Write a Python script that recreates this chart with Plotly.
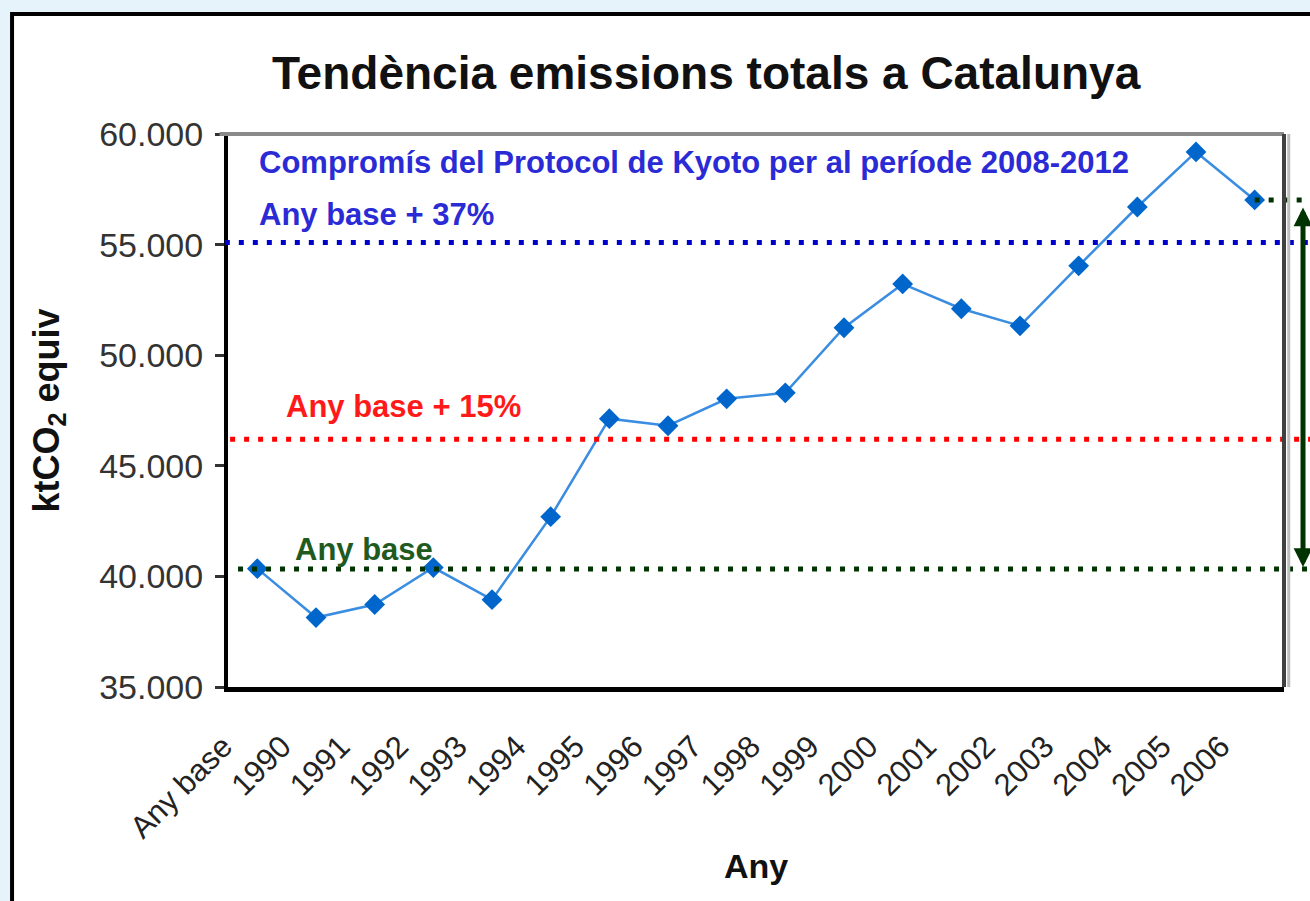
import plotly.graph_objects as go

# categories and emissions (kt CO2 equiv)
anys = ["Any base", "1990", "1991", "1992", "1993", "1994", "1995", "1996", "1997",
        "1998", "1999", "2000", "2001", "2002", "2003", "2004", "2005", "2006"]
emissions = [40350, 38140, 38730, 40400, 38950, 42700, 47130, 46810, 48030,
             48300, 51240, 53220, 52100, 51330, 54040, 56700, 59190, 57020]

# reference levels: Kyoto +37%, +15%, base year
ref_labels = ["Any base + 37%", "Any base + 15%", "Any base"]
ref_levels = [55100, 46200, 40330]
ref_colors = ["#0000cc", "#ff0000", "#003300"]
label_colors = ["#2b2bd6", "#ff1a1a", "#1f5a1f"]

y_ticks = [35000, 40000, 45000, 50000, 55000, 60000]

FONT = "Liberation Sans, Arial, sans-serif"

fig = go.Figure()
fig.add_trace(go.Scatter(
    x=anys, y=emissions, mode="lines+markers",
    line=dict(color="#3a8de0", width=2.5),
    marker=dict(symbol="diamond", size=16, color="#0066cc"),
    showlegend=False, cliponaxis=False))

# white card with black frame (cropped on the right/bottom like the source)
fig.add_shape(type="rect", xref="paper", yref="paper", x0=-0.2045, x1=1.06, y0=-0.45, y1=1.217,
              fillcolor="white", line=dict(color="black", width=4), layer="below")

# dotted reference lines, running past the plot to the right edge
starts = [-0.003, 0.002, 0.0095]
for lvl, col, x0 in zip(ref_levels, ref_colors, starts):
    fig.add_shape(type="line", xref="paper", yref="y", x0=x0, x1=1.03, y0=lvl, y1=lvl,
                  line=dict(color=col, width=5, dash="5px,9px"))

# short dotted level from the last year to the arrow
last_pos = (len(anys) - 0.5) / len(anys)
fig.add_shape(type="line", xref="paper", yref="y", x0=last_pos, x1=1.03,
              y0=emissions[-1], y1=emissions[-1],
              line=dict(color="#003300", width=5, dash="5px,9px"))

# plot frame: grey top, dark right edge with a light shadow
fig.add_shape(type="line", xref="paper", yref="paper", x0=-0.008, x1=1.0, y0=1, y1=1,
              line=dict(color="#8a8a8a", width=4))
fig.add_shape(type="line", xref="paper", yref="paper", x0=1.0, x1=1.0, y0=0, y1=1,
              line=dict(color="#404040", width=4))
fig.add_shape(type="line", xref="paper", yref="paper", x0=1.0045, x1=1.0045, y0=0, y1=1,
              line=dict(color="#bdbdbd", width=3))

# double-headed arrow between base level and last year
fig.add_annotation(xref="paper", yref="y", x=1.018, y=ref_levels[2],
                   ayref="y", ay=emissions[-1], axref="pixel", ax=0,
                   text="", showarrow=True, arrowside="end+start",
                   arrowhead=2, startarrowhead=2, arrowsize=0.75, startarrowsize=0.75,
                   arrowwidth=5, arrowcolor="#003300", standoff=2, startstandoff=6)

# labels
fig.add_annotation(xref="paper", yref="paper", x=0.0275, y=0.949, xanchor="left", yanchor="middle",
                   text="Compromís del Protocol de Kyoto per al període 2008-2012", showarrow=False,
                   font=dict(family=FONT, size=31, color=label_colors[0], weight="bold"))
label_pos = [(0.0275, 0.855), (0.053, 0.508), (0.0616, 0.2495)]
for txt, col, (lx, ly) in zip(ref_labels, label_colors, label_pos):
    fig.add_annotation(xref="paper", yref="paper", x=lx, y=ly, xanchor="left", yanchor="middle",
                       text=txt, showarrow=False,
                       font=dict(family=FONT, size=31, color=col, weight="bold"))

fig.add_annotation(xref="paper", yref="paper", x=0.5, y=-0.3237, xanchor="center", yanchor="middle",
                   text="Any", showarrow=False,
                   font=dict(family=FONT, size=34, color="#111111", weight="bold"))

fig.update_xaxes(type="category", categoryorder="array", categoryarray=anys,
                 range=[-0.5, len(anys) - 0.5], showline=True, linecolor="black", linewidth=5,
                 ticks="", tickangle=-45, showgrid=False, zeroline=False,
                 tickfont=dict(family=FONT, size=31, color="#222222"),
                 ticklabelstandoff=24, ticklabelshift=-34)
fig.update_yaxes(range=[35000, 60000], tickvals=y_ticks, tickformat=",d",
                 showline=True, linecolor="black", linewidth=4,
                 ticks="outside", ticklen=9, tickwidth=3, tickcolor="#333333",
                 showgrid=False, zeroline=False,
                 tickfont=dict(family=FONT, size=34, color="#333333"),
                 ticklabelstandoff=5,
                 title=dict(text="ktCO<sub>2</sub> equiv", standoff=30,
                            font=dict(family=FONT, size=36, color="#111111", weight="bold")))

fig.update_layout(
    width=1310, height=901, separators=",.",
    paper_bgcolor="#e6f3fa", plot_bgcolor="white",
    margin=dict(l=228, r=26, t=134, b=214, autoexpand=False),
    title=dict(text="Tendència emissions totals a Catalunya", x=0.539, xanchor="center",
               y=0.919, yanchor="middle",
               font=dict(family=FONT, size=46, color="#111111", weight="bold")),
)

# drop the default body margin so the figure sits at the page origin
fig.write_html("out.html", config={"displayModeBar": False},
               post_script="document.body.style.margin = '0px';")
